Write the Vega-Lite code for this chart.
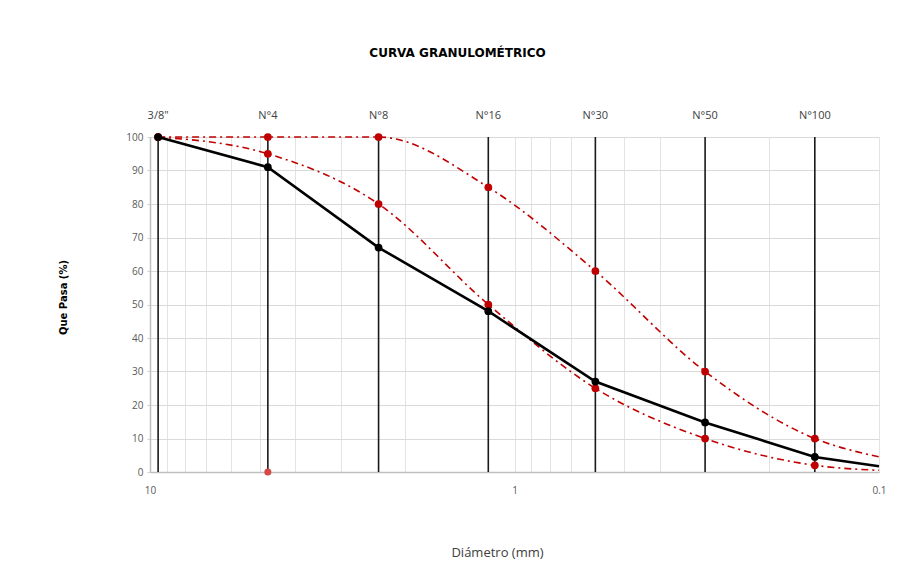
{
  "$schema": "https://vega.github.io/schema/vega-lite/v6.json",
  "width": 729,
  "height": 335,
  "autosize": {"type": "none"},
  "padding": {"left": 150, "top": 137, "right": 42, "bottom": 102},
  "background": "white",
  "title": {
    "text": "CURVA GRANULOMÉTRICO",
    "font": "DejaVu Sans",
    "fontSize": 12,
    "fontWeight": "bold",
    "color": "black",
    "anchor": "middle",
    "dx": -57,
    "offset": 50
  },
  "config": {"view": {"stroke": null}, "font": "Open Sans"},
  "datasets": {
    "sieves": [
      {"tamiz": "3/8\"", "d": 9.5},
      {"tamiz": "N°4", "d": 4.75},
      {"tamiz": "N°8", "d": 2.36},
      {"tamiz": "N°16", "d": 1.18},
      {"tamiz": "N°30", "d": 0.6},
      {"tamiz": "N°50", "d": 0.3},
      {"tamiz": "N°100", "d": 0.15}
    ],
    "curves": [
      {"serie": "Muestra", "d": 9.5, "pasa": 100},
      {"serie": "Muestra", "d": 4.75, "pasa": 91},
      {"serie": "Muestra", "d": 2.36, "pasa": 67},
      {"serie": "Muestra", "d": 1.18, "pasa": 48},
      {"serie": "Muestra", "d": 0.6, "pasa": 27},
      {"serie": "Muestra", "d": 0.3, "pasa": 14.8},
      {"serie": "Muestra", "d": 0.15, "pasa": 4.5},
      {"serie": "Muestra", "d": 0.1, "pasa": 1.7},
      {"serie": "Superior", "d": 9.5, "pasa": 100},
      {"serie": "Superior", "d": 4.75, "pasa": 100},
      {"serie": "Superior", "d": 2.36, "pasa": 100},
      {"serie": "Superior", "d": 1.18, "pasa": 85},
      {"serie": "Superior", "d": 0.6, "pasa": 60},
      {"serie": "Superior", "d": 0.3, "pasa": 30},
      {"serie": "Superior", "d": 0.15, "pasa": 10},
      {"serie": "Superior", "d": 0.1, "pasa": 4.5},
      {"serie": "Inferior", "d": 9.5, "pasa": 100},
      {"serie": "Inferior", "d": 4.75, "pasa": 95},
      {"serie": "Inferior", "d": 2.36, "pasa": 80},
      {"serie": "Inferior", "d": 1.18, "pasa": 50},
      {"serie": "Inferior", "d": 0.6, "pasa": 25},
      {"serie": "Inferior", "d": 0.3, "pasa": 10},
      {"serie": "Inferior", "d": 0.15, "pasa": 2},
      {"serie": "Inferior", "d": 0.1, "pasa": 0.5},
      {"serie": "Extra", "d": 4.75, "pasa": 0}
    ]
  },
  "encoding": {
    "x": {
      "field": "d",
      "type": "quantitative",
      "scale": {"type": "log", "domain": [0.1, 10], "reverse": true, "nice": false},
      "axis": {
        "title": "Diámetro (mm)",
        "titleFont": "Open Sans",
        "titleFontSize": 13,
        "titleFontWeight": "normal",
        "titleColor": "#404040",
        "titleX": 347,
        "titleY": 80,
        "titleBaseline": "middle",
        "values": [10, 9, 8, 7, 6, 5, 4, 3, 2, 1, 0.9, 0.8, 0.7, 0.6, 0.5, 0.4, 0.3, 0.2, 0.1],
        "labelExpr": "datum.value == 10 ? '10' : datum.value == 1 ? '1' : datum.value == 0.1 ? '0.1' : ''",
        "labelFontSize": 10,
        "labelColor": "#595959",
        "labelPadding": 13,
        "labelFlush": false,
        "labelOverlap": false,
        "ticks": false,
        "domain": true,
        "domainColor": "#bfbfbf",
        "domainWidth": 1.5,
        "grid": true,
        "gridColor": "#e3e3e3",
        "gridWidth": 1
      }
    }
  },
  "layer": [
    {
      "data": {"name": "curves"},
      "transform": [{"filter": "datum.serie == 'Superior' || datum.serie == 'Inferior'"}],
      "mark": {"type": "line", "color": "#c00000", "strokeWidth": 1.6, "strokeDash": [7, 4, 2, 4], "interpolate": "monotone"},
      "encoding": {
        "y": {"field": "pasa", "type": "quantitative", "scale": {"domain": [0, 100], "nice": false},
          "axis": {"title": "Que Pasa (%)", "titleFont": "DejaVu Sans", "titleFontSize": 10, "titleFontWeight": "bold", "titleColor": "black", "titleX": -87, "titleY": 160, "titleAngle": -90, "titleAlign": "center", "titleBaseline": "middle", "values": [0, 10, 20, 30, 40, 50, 60, 70, 80, 90, 100], "labelOverlap": false, "labelFontSize": 10, "labelColor": "#595959", "labelPadding": 4, "tickSize": 3, "tickColor": "#cfcfcf", "domain": true, "domainColor": "#bfbfbf", "domainWidth": 1.5, "grid": true, "gridColor": "#dadada", "gridWidth": 1.2}},
        "detail": {"field": "serie"}
      }
    },
    {
      "data": {"name": "sieves"},
      "mark": {"type": "rule", "color": "#1a1a1a", "strokeWidth": 1.6}
    },
    {
      "data": {"name": "sieves"},
      "mark": {"type": "text", "dy": -21, "fontSize": 11, "color": "#404040", "font": "Open Sans", "baseline": "middle"},
      "encoding": {
        "y": {"datum": 100, "type": "quantitative", "scale": {"domain": [0, 100], "nice": false},
          "axis": {"title": "Que Pasa (%)", "titleFont": "DejaVu Sans", "titleFontSize": 10, "titleFontWeight": "bold", "titleColor": "black", "titleX": -87, "titleY": 160, "titleAngle": -90, "titleAlign": "center", "titleBaseline": "middle", "values": [0, 10, 20, 30, 40, 50, 60, 70, 80, 90, 100], "labelOverlap": false, "labelFontSize": 10, "labelColor": "#595959", "labelPadding": 4, "tickSize": 3, "tickColor": "#cfcfcf", "domain": true, "domainColor": "#bfbfbf", "domainWidth": 1.5, "grid": true, "gridColor": "#dadada", "gridWidth": 1.2}},
        "text": {"field": "tamiz"}
      }
    },
    {
      "data": {"name": "curves"},
      "transform": [{"filter": "(datum.serie == 'Superior' || datum.serie == 'Inferior') && datum.d >= 0.15"}],
      "mark": {"type": "point", "filled": true, "color": "#c00000", "size": 60, "opacity": 1},
      "encoding": {
        "y": {"field": "pasa", "type": "quantitative", "scale": {"domain": [0, 100], "nice": false},
          "axis": {"title": "Que Pasa (%)", "titleFont": "DejaVu Sans", "titleFontSize": 10, "titleFontWeight": "bold", "titleColor": "black", "titleX": -87, "titleY": 160, "titleAngle": -90, "titleAlign": "center", "titleBaseline": "middle", "values": [0, 10, 20, 30, 40, 50, 60, 70, 80, 90, 100], "labelOverlap": false, "labelFontSize": 10, "labelColor": "#595959", "labelPadding": 4, "tickSize": 3, "tickColor": "#cfcfcf", "domain": true, "domainColor": "#bfbfbf", "domainWidth": 1.5, "grid": true, "gridColor": "#dadada", "gridWidth": 1.2}}
      }
    },
    {
      "data": {"name": "curves"},
      "transform": [{"filter": "datum.serie == 'Extra'"}],
      "mark": {"type": "point", "filled": true, "color": "#d44a4a", "size": 50, "opacity": 1},
      "encoding": {
        "y": {"field": "pasa", "type": "quantitative", "scale": {"domain": [0, 100], "nice": false},
          "axis": {"title": "Que Pasa (%)", "titleFont": "DejaVu Sans", "titleFontSize": 10, "titleFontWeight": "bold", "titleColor": "black", "titleX": -87, "titleY": 160, "titleAngle": -90, "titleAlign": "center", "titleBaseline": "middle", "values": [0, 10, 20, 30, 40, 50, 60, 70, 80, 90, 100], "labelOverlap": false, "labelFontSize": 10, "labelColor": "#595959", "labelPadding": 4, "tickSize": 3, "tickColor": "#cfcfcf", "domain": true, "domainColor": "#bfbfbf", "domainWidth": 1.5, "grid": true, "gridColor": "#dadada", "gridWidth": 1.2}}
      }
    },
    {
      "data": {"name": "curves"},
      "transform": [{"filter": "datum.serie == 'Muestra'"}],
      "mark": {"type": "line", "color": "black", "strokeWidth": 2.6},
      "encoding": {
        "y": {"field": "pasa", "type": "quantitative", "scale": {"domain": [0, 100], "nice": false},
          "axis": {"title": "Que Pasa (%)", "titleFont": "DejaVu Sans", "titleFontSize": 10, "titleFontWeight": "bold", "titleColor": "black", "titleX": -87, "titleY": 160, "titleAngle": -90, "titleAlign": "center", "titleBaseline": "middle", "values": [0, 10, 20, 30, 40, 50, 60, 70, 80, 90, 100], "labelOverlap": false, "labelFontSize": 10, "labelColor": "#595959", "labelPadding": 4, "tickSize": 3, "tickColor": "#cfcfcf", "domain": true, "domainColor": "#bfbfbf", "domainWidth": 1.5, "grid": true, "gridColor": "#dadada", "gridWidth": 1.2}}
      }
    },
    {
      "data": {"name": "curves"},
      "transform": [{"filter": "datum.serie == 'Muestra' && datum.d >= 0.15"}],
      "mark": {"type": "point", "filled": true, "color": "black", "size": 60, "opacity": 1},
      "encoding": {
        "y": {"field": "pasa", "type": "quantitative", "scale": {"domain": [0, 100], "nice": false},
          "axis": {"title": "Que Pasa (%)", "titleFont": "DejaVu Sans", "titleFontSize": 10, "titleFontWeight": "bold", "titleColor": "black", "titleX": -87, "titleY": 160, "titleAngle": -90, "titleAlign": "center", "titleBaseline": "middle", "values": [0, 10, 20, 30, 40, 50, 60, 70, 80, 90, 100], "labelOverlap": false, "labelFontSize": 10, "labelColor": "#595959", "labelPadding": 4, "tickSize": 3, "tickColor": "#cfcfcf", "domain": true, "domainColor": "#bfbfbf", "domainWidth": 1.5, "grid": true, "gridColor": "#dadada", "gridWidth": 1.2}}
      }
    }
  ]
}
